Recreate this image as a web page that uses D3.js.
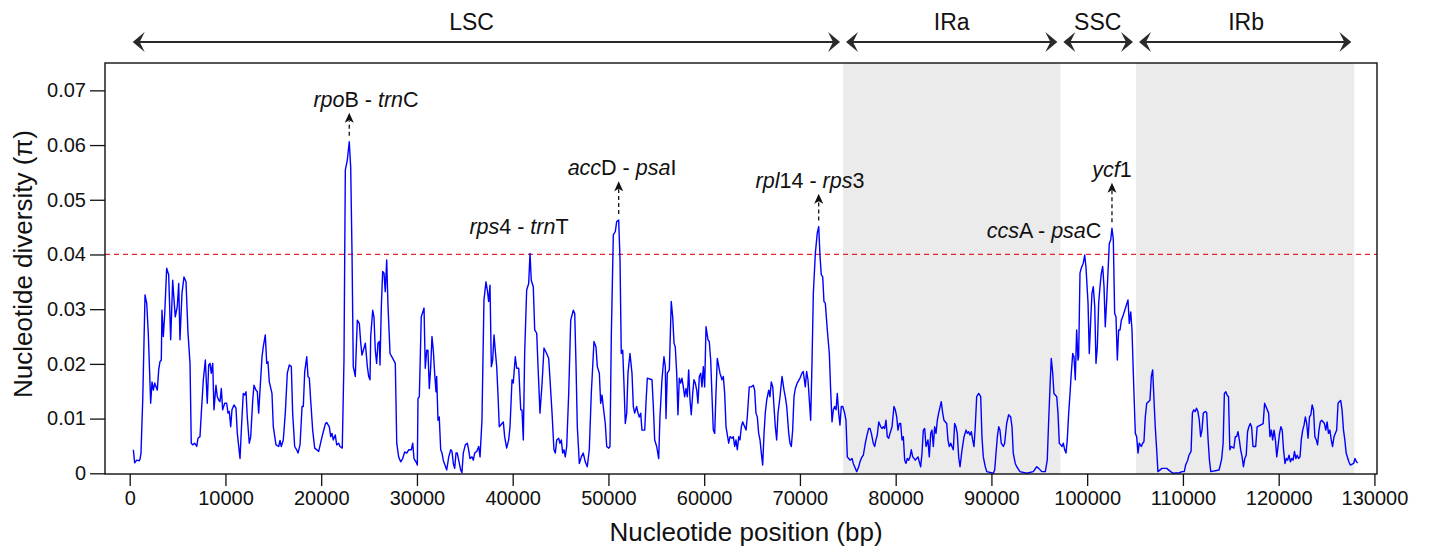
<!DOCTYPE html>
<html>
<head>
<meta charset="utf-8">
<script src="https://cdn.jsdelivr.net/npm/d3@7"></script>
<style>
body { margin: 0; background: #fff; }
text { font-family: "Liberation Sans", Arial, Helvetica, sans-serif; fill: #111; }
</style>
</head>
<body>
<div id="chart"></div>
<script>
// genome regions (bp)
const regionNames = ['LSC', 'IRa', 'SSC', 'IRb']
const regionStart = [0, 74500, 97200, 105100]
const regionEnd = [74500, 97200, 105100, 127900]
const regionLabelX = [35700, 85850, 101100, 116600]
const shadedRegions = ['IRa', 'IRb']

const xTicks = d3.range(0, 130001, 10000)
const yTicks = [0, 0.01, 0.02, 0.03, 0.04, 0.05, 0.06, 0.07]
const threshold = 0.04

// sliding window: [midpoint bp, Pi]
const piData = [
[380,0.0043],[520,0.0019],[730,0.0024],[1000,0.0023],[1080,0.0026],[1180,0.0037],[1360,0.0134],[1600,0.0326],[1780,0.031],[1940,0.0256],[2190,0.0128],[2330,0.0167],[2470,0.0152],[2610,0.0165],[2750,0.0158],[2880,0.0152],[3030,0.0189],[3160,0.0204],[3300,0.0207],[3370,0.0298],[3510,0.025],[3660,0.0292],[3860,0.0375],[4070,0.0363],[4280,0.0244],[4490,0.0353],[4630,0.0317],[4760,0.0286],[4970,0.0305],[5120,0.0347],[5250,0.0244],[5460,0.0329],[5670,0.0359],[5880,0.035],[6090,0.0256],[6300,0.0201],[6430,0.0055],[6580,0.0052],[6790,0.0055],[7000,0.0049],[7130,0.0064],[7340,0.0067],[7480,0.011],[7690,0.0171],[7900,0.0207],[8100,0.0128],[8250,0.0198],[8390,0.0201],[8520,0.0183],[8670,0.0201],[8800,0.0116],[9010,0.0161],[9150,0.014],[9290,0.0134],[9430,0.0131],[9570,0.0155],[9710,0.0116],[9920,0.0128],[10130,0.0128],[10270,0.011],[10400,0.0113],[10550,0.0085],[10680,0.0116],[10890,0.0125],[11100,0.0119],[11240,0.0073],[11520,0.0027],[11660,0.0079],[11860,0.0146],[12010,0.0143],[12150,0.0149],[12280,0.0103],[12490,0.0055],[12640,0.0067],[12850,0.0134],[12980,0.0161],[13190,0.0152],[13330,0.0149],[13470,0.011],[13610,0.0152],[13820,0.0213],[13950,0.0231],[14160,0.0253],[14310,0.0201],[14440,0.0204],[14580,0.0167],[14860,0.0146],[15000,0.0085],[15280,0.0052],[15560,0.0049],[15700,0.006],[15830,0.0049],[16040,0.0061],[16250,0.011],[16460,0.0183],[16670,0.0198],[16880,0.0195],[17020,0.011],[17230,0.0049],[17440,0.0043],[17580,0.0037],[17790,0.0052],[18000,0.0122],[18130,0.0122],[18280,0.0186],[18490,0.0213],[18620,0.0177],[18760,0.0174],[18900,0.0134],[19110,0.0079],[19320,0.0046],[19740,0.004],[20010,0.0061],[20220,0.0076],[20430,0.009],[20570,0.0093],[20850,0.0085],[20990,0.0067],[21130,0.0073],[21260,0.0061],[21470,0.007],[21620,0.0052],[21830,0.0055],
[21960,0.0049],[22200,0.0046],[22380,0.0207],[22520,0.0554],[22730,0.0573],[22930,0.0606],[23080,0.056],[23220,0.0402],[23350,0.0195],[23560,0.0177],[23770,0.028],[23980,0.0274],[24130,0.0238],[24260,0.0216],[24470,0.0229],[24610,0.0238],[24820,0.0195],[24960,0.0177],[25100,0.0171],[25170,0.025],[25380,0.0298],[25510,0.0286],[25650,0.0225],[25790,0.0201],[25930,0.0238],[26070,0.0241],[26140,0.0198],[26280,0.0305],[26420,0.0369],[26560,0.0366],[26690,0.0332],[26840,0.039],[26980,0.0305],[27190,0.0219],[27470,0.021],[27740,0.0201],[27890,0.0055],[28090,0.003],[28300,0.0021],[28510,0.0027],[28720,0.0039],[28930,0.0037],[29140,0.0043],[29410,0.0043],[29560,0.0055],[29690,0.0027],[29900,0.0021],[30040,0.0015],[30110,0.0137],[30250,0.014],[30450,0.0286],[30740,0.0302],[30870,0.0192],[31020,0.0225],[31150,0.0225],[31290,0.0155],[31440,0.0195],[31570,0.025],[31710,0.0225],[31850,0.0183],[31990,0.0149],[32060,0.0177],[32200,0.0097],[32330,0.0103],[32480,0.0043],[32620,0.0037],[32750,0.0024],[33110,0.0006],[33320,0.003],[33530,0.0043],[33660,0.004],[33800,0.0018],[33940,0.0009],[34080,0.0037],[34210,0.0037],[34360,0.0024],[34570,0.0006],[34700,0.0001],[34840,0.0037],[35050,0.0052],[35260,0.0055],[35400,0.0043],[35540,0.0027],[35750,0.003],[35890,0.0024],[36030,0.0037],[36240,0.004],[36450,0.0049],[36590,0.003],[36790,0.0097],[37000,0.0317],[37210,0.035],[37350,0.0335],[37490,0.0314],[37630,0.0344],[37770,0.0195],[37910,0.0207],[38050,0.0253],[38180,0.0225],[38330,0.0195],[38460,0.0146],[38600,0.0085],[38880,0.0091],[39020,0.0094],[39160,0.0067],[39370,0.0046],[39580,0.0061],[39720,0.0085],[39930,0.0171],[40060,0.0165],[40270,0.0213],[40420,0.0192],[40630,0.0192],[40840,0.0116],[40970,0.0116],[41110,0.0061],[41250,0.0219],[41460,0.0335],[41670,0.0347],[41810,0.0402],[41940,0.0353],[42150,0.0341],[42300,0.0262],[42510,0.0256],[42640,0.0198],[42850,0.011],[43070,0.0165],
[43270,0.0229],[43550,0.0219],[43760,0.021],[43900,0.0171],[44110,0.011],[44310,0.0043],[44450,0.0037],[44600,0.0061],[44800,0.0064],[44940,0.0055],[45080,0.0061],[45220,0.0037],[45360,0.0043],[45490,0.003],[45640,0.0049],[45850,0.0146],[46060,0.028],[46330,0.0298],[46480,0.0292],[46610,0.0201],[46750,0.0085],[46960,0.0018],[47170,0.003],[47370,0.0037],[47580,0.0021],[47790,0.0012],[48000,0.0043],[48210,0.0146],[48490,0.0241],[48700,0.0231],[48840,0.0195],[49050,0.0183],[49190,0.0128],[49330,0.0143],[49460,0.0122],[49670,0.0091],[49820,0.0049],[50030,0.0046],[50160,0.0049],[50300,0.025],[50510,0.0436],[50720,0.0442],[50860,0.046],[51070,0.0463],[51210,0.039],[51340,0.0219],[51490,0.0225],[51620,0.0165],[51760,0.0091],[51910,0.011],[52040,0.0183],[52250,0.0219],[52460,0.0183],[52600,0.0122],[52740,0.011],[52950,0.0122],[53090,0.011],[53220,0.0103],[53370,0.011],[53500,0.0079],[53790,0.0079],[53920,0.0128],[54060,0.0174],[54550,0.0171],[54690,0.0122],[54830,0.0061],[55040,0.0049],[55250,0.0027],[55380,0.0103],[55590,0.0171],[55800,0.0213],[55940,0.0195],[56010,0.01],[56150,0.0183],[56360,0.0189],[56560,0.0314],[56710,0.0286],[56850,0.0238],[56980,0.0231],[57130,0.0183],[57260,0.0107],[57400,0.0174],[57550,0.0165],[57680,0.0174],[57820,0.0158],[57960,0.014],[58100,0.0155],[58240,0.014],[58380,0.0189],[58520,0.0134],[58650,0.0107],[58800,0.0146],[58930,0.0171],[59070,0.0165],[59220,0.0152],[59350,0.0128],[59490,0.0177],[59640,0.0183],[59770,0.0158],[59910,0.0195],[60050,0.0158],[60190,0.0268],[60400,0.0244],[60530,0.0241],[60680,0.0207],[60820,0.014],[60950,0.0079],[61100,0.0073],[61230,0.0146],[61370,0.021],[61650,0.0183],[61860,0.0171],[62000,0.0177],[62140,0.0146],[62280,0.0085],[62560,0.0055],[62700,0.0067],[62900,0.0064],[63040,0.0067],[63190,0.0049],[63320,0.0061],[63460,0.0043],[63610,0.0067],[63740,0.0061],[63880,0.0085],[64020,0.0094],[64230,0.0085],[64370,0.0079],[64500,0.0103],[64710,0.0158],[64920,0.0158],[65130,0.0161],[65270,0.0152],[65410,0.011],[65550,0.0103],[65690,0.0073],[65830,0.0061],
[65970,0.0037],[66110,0.0015],[66250,0.0073],[66380,0.011],[66530,0.0134],[66740,0.0152],[66870,0.014],[67010,0.0167],[67160,0.0158],[67290,0.0122],[67430,0.0085],[67570,0.0061],[67710,0.011],[67920,0.014],[68130,0.0177],[68340,0.0152],[68470,0.014],[68620,0.0122],[68830,0.0073],[68960,0.0055],[69100,0.0049],[69240,0.0079],[69380,0.014],[69520,0.0155],[69720,0.0165],[70010,0.0174],[70210,0.0183],[70350,0.0186],[70560,0.0158],[70700,0.0186],[70840,0.0171],[70980,0.0134],[71120,0.0097],[71260,0.0201],[71400,0.0329],[71610,0.0402],[71810,0.0439],[71960,0.0451],[72100,0.0396],[72230,0.0363],[72380,0.0359],[72510,0.0314],[72650,0.0311],[72860,0.0262],[73070,0.0219],[73210,0.0152],[73350,0.0094],[73490,0.0116],[73630,0.0122],[73770,0.0116],[73900,0.0146],[74050,0.011],[74180,0.0088],[74320,0.0122],[74470,0.0122],[74670,0.011],[74810,0.0097],[74950,0.003],[75090,0.0027],[75230,0.0024],[75440,0.0027],[75570,0.0018],[75720,0.0012],[75930,0.0003],[76140,0.0012],[76270,0.0021],[76480,0.003],[76620,0.0033],[76830,0.0055],[76970,0.0067],[77180,0.0082],[77320,0.0082],[77460,0.0073],[77660,0.0055],[77810,0.0049],[77940,0.0061],[78080,0.007],[78230,0.0094],[78440,0.0085],[78570,0.0082],[78710,0.0085],[78850,0.0082],[78990,0.0097],[79120,0.0067],[79270,0.0064],[79410,0.0073],[79620,0.0085],[79820,0.0122],[79960,0.0116],[80110,0.0103],[80240,0.0079],[80380,0.0091],[80520,0.0091],[80660,0.0061],[80800,0.0067],[80940,0.0024],[81080,0.0018],[81210,0.0027],[81360,0.0024],[81500,0.003],[81630,0.0043],[81780,0.003],[82050,0.0024],[82190,0.0027],[82330,0.003],[82470,0.0021],[82610,0.0012],[82750,0.0037],[82890,0.0079],[83030,0.0082],[83170,0.0049],[83370,0.0061],[83510,0.003],[83660,0.0073],[83790,0.0079],[83930,0.0049],[84070,0.0085],[84210,0.0073],[84350,0.0097],[84490,0.011],[84760,0.0131],[84910,0.011],[85040,0.0097],[85330,0.0091],[85460,0.0061],[85600,0.0049],[85750,0.0055],[85880,0.0049],[86020,0.0043],[86160,0.0091],[86300,0.0085],[86430,0.0073],[86580,0.003],[86720,0.0012],
[86930,0.0043],[87140,0.0067],[87350,0.0079],[87480,0.0073],[87620,0.0076],[87760,0.007],[87900,0.0076],[88040,0.0061],[88180,0.0049],[88310,0.0085],[88460,0.014],[88670,0.0146],[88880,0.014],[89010,0.0067],[89150,0.003],[89360,0.0012],[89510,0.0003],[90200,0.0],[90340,0.0006],[90480,0.0037],[90620,0.0067],[90760,0.0085],[90890,0.0079],[91030,0.0055],[91240,0.0049],[91380,0.0055],[91590,0.0091],[91800,0.0107],[92010,0.0103],[92150,0.0085],[92280,0.0037],[92490,0.0018],[92640,0.0012],[92980,0.0003],[93680,0.0],[94370,0.0003],[94730,0.0012],[94940,0.0009],[95280,0.0003],[95630,0.0003],[95830,0.0024],[95980,0.0097],[96120,0.0158],[96250,0.021],[96400,0.0183],[96530,0.0146],[96820,0.014],[96950,0.011],[97090,0.0055],[97240,0.0052],[97370,0.0049],[97510,0.0055],[97650,0.0043],[97790,0.0037],[97920,0.0061],[98070,0.011],[98210,0.0146],[98340,0.0183],[98490,0.0219],[98620,0.0213],[98760,0.0171],[98900,0.0262],[99040,0.0207],[99110,0.0213],[99250,0.0366],[99380,0.0375],[99590,0.0384],[99740,0.0399],[99870,0.0378],[100090,0.0311],[100220,0.0219],[100370,0.028],[100500,0.0329],[100640,0.0341],[100790,0.0305],[100920,0.0201],[101060,0.0231],[101200,0.0311],[101340,0.0341],[101480,0.0366],[101620,0.0378],[101760,0.0341],[101890,0.0268],[102040,0.0317],[102170,0.0366],[102310,0.042],[102460,0.0427],[102590,0.0448],[102730,0.0427],[102870,0.0292],[103010,0.0286],[103150,0.0207],[103290,0.0262],[103430,0.0262],[103570,0.028],[103710,0.0286],[104050,0.0305],[104260,0.0317],[104400,0.0274],[104550,0.0295],[104680,0.0262],[104820,0.0183],[105030,0.0073],[105170,0.0067],[105310,0.0037],[105440,0.0055],[105650,0.0049],[105800,0.0055],[105930,0.0058],[106070,0.0103],[106220,0.0128],[106430,0.0131],[106560,0.0134],[106700,0.0177],[106840,0.0189],[106980,0.0134],[107110,0.0085],[107260,0.0043],[107390,0.0003],[107810,0.0009],[108300,0.0009],[108720,0.0003],
[109000,0.0],[109640,0.0001],[109920,0.0003],[110140,0.0003],[110280,0.0015],[110500,0.0024],[110630,0.0033],[110850,0.004],[110990,0.011],[111130,0.0116],[111280,0.0113],[111420,0.0119],[111560,0.0113],[111710,0.0097],[111850,0.0067],[111990,0.0079],[112130,0.011],[112350,0.0113],[112480,0.0111],[112630,0.0061],[112770,0.0024],[112910,0.0003],[113770,0.0006],[113900,0.0015],[114050,0.0027],[114200,0.0055],[114330,0.0146],[114480,0.0149],[114610,0.0143],[114760,0.014],[114900,0.0043],[115040,0.0049],[115320,0.0046],[115470,0.0067],[115610,0.0067],[115750,0.0076],[115890,0.0061],[116030,0.0043],[116180,0.003],[116320,0.0012],[116460,0.0027],[116610,0.0033],[116750,0.0076],[116890,0.0085],[117030,0.0091],[117170,0.0085],[117320,0.0049],[117600,0.0049],[117750,0.0085],[118380,0.0091],[118530,0.0128],[118670,0.0122],[118950,0.011],[119090,0.0067],[119240,0.0079],[119370,0.0061],[119520,0.0079],[119660,0.0061],[119800,0.003],[119950,0.0052],[120090,0.0073],[120230,0.0085],[120370,0.0079],[120510,0.0043],[120660,0.0018],[120800,0.0027],[120940,0.0024],[121080,0.0033],[121230,0.0021],[121370,0.0027],[121510,0.0024],[121650,0.004],[121800,0.0027],[121930,0.0033],[122080,0.0027],[122230,0.003],[122360,0.0061],[122510,0.0079],[122650,0.0088],[122790,0.0103],[122930,0.0091],[123070,0.0064],[123220,0.0103],[123360,0.0107],[123500,0.0125],[123640,0.0116],[123780,0.0067],[123930,0.0061],[124060,0.0052],[124210,0.0079],[124350,0.0094],[124490,0.0097],[124780,0.0091],[124920,0.0079],[125060,0.0094],[125200,0.0073],[125350,0.0079],[125490,0.0061],[125630,0.0049],[125780,0.0067],[126060,0.0079],[126200,0.0128],[126340,0.0131],[126480,0.0133],[126620,0.0116],[126770,0.0079],[126910,0.0061],[127050,0.0037],[127330,0.0021],[127480,0.0015],[127830,0.0018],[127970,0.0027],[128120,0.0021],[128260,0.0019]
]

// hotspot labels: text pieces [string, italic]
const hotspotNames = [
  [['rpo',1],['B',0],[' - ',0],['trn',1],['C',0]],
  [['rps',1],['4',0],[' - ',0],['trn',1],['T',0]],
  [['acc',1],['D',0],[' - ',0],['psa',1],['I',0]],
  [['rpl',1],['14',0],[' - ',0],['rps',1],['3',0]],
  [['ccs',1],['A',0],[' - ',0],['psa',1],['C',0]],
  [['ycf',1],['1',0]]
]
const hotspotLabelX = [24680, 40660, 51420, 71050, 95490, 102590]
const hotspotLabelY = [0.067, 0.0438, 0.0545, 0.0522, 0.0431, 0.0542]
const hotspotPeakX = [22930, 41810, 51070, 71960, 99740, 102590]
const hotspotPeakY = [0.0606, 0.0402, 0.0463, 0.0451, 0.0399, 0.0448]
const hotspotArrow = [true, false, true, true, false, true]

const width = 1435
const height = 550
const plotLeft = 105, plotRight = 1377, plotTop = 63, plotBottom = 474

const svg = d3.select('#chart')
  .append('svg')
  .attr('width', width)
  .attr('height', height)

const x = d3.scaleLinear()
  .domain([-2580, 130270])
  .range([plotLeft, plotRight])

const y = d3.scaleLinear()
  .domain([0, 0.075])
  .range([473.3, plotTop])

// shaded inverted repeats
svg.append('g')
  .selectAll('rect')
  .data(regionNames.map((n, i) => ({n, s: regionStart[i], e: regionEnd[i]})).filter(d => shadedRegions.includes(d.n)))
  .join('rect')
  .attr('x', d => x(d.s))
  .attr('width', d => x(d.e) - x(d.s))
  .attr('y', plotTop)
  .attr('height', plotBottom - plotTop)
  .attr('fill', '#ebebeb')

// threshold
svg.append('line')
  .attr('x1', plotLeft).attr('x2', plotRight)
  .attr('y1', y(threshold)).attr('y2', y(threshold))
  .attr('stroke', '#e3262a')
  .attr('stroke-width', 1.2)
  .attr('stroke-dasharray', '5,4')

const line = d3.line()
  .x(d => x(d[0]))
  .y(d => y(d[1]))

svg.append('path')
  .datum(piData)
  .attr('d', line)
  .attr('fill', 'none')
  .attr('stroke', '#0000ff')
  .attr('stroke-width', 1.4)
  .attr('stroke-linejoin', 'round')

// frame
svg.append('rect')
  .attr('x', plotLeft).attr('y', plotTop)
  .attr('width', plotRight - plotLeft)
  .attr('height', plotBottom - plotTop)
  .attr('fill', 'none')
  .attr('stroke', '#111')
  .attr('stroke-width', 1.4)

// axes
const yAxis = svg.append('g')
  .attr('transform', `translate(${plotLeft},0)`)
  .call(d3.axisLeft(y).tickValues(yTicks).tickSize(15).tickPadding(4)
    .tickFormat(d => d === 0 ? '0' : d3.format('.2f')(d)))
yAxis.select('.domain').remove()

const xAxis = svg.append('g')
  .attr('transform', `translate(0,${plotBottom})`)
  .call(d3.axisBottom(x).tickValues(xTicks).tickSize(12).tickPadding(5).tickFormat(d3.format('d')))
xAxis.select('.domain').remove()

svg.selectAll('.tick line').attr('stroke', '#111').attr('stroke-width', 1.3)
svg.selectAll('.tick text').attr('font-size', 20).attr('fill', '#111')
  .style('font-family', '"Liberation Sans", Arial, sans-serif')

svg.append('text')
  .attr('x', 746).attr('y', 541)
  .attr('text-anchor', 'middle')
  .attr('font-size', 26)
  .text('Nucleotide position (bp)')

svg.append('text')
  .attr('transform', 'translate(32,264) rotate(-90)')
  .attr('text-anchor', 'middle')
  .attr('font-size', 26)
  .text('Nucleotide diversity (π)')

// region arrows on top
const arrowY = 42
const topG = svg.append('g')
const head = (tip, dir) => `M${tip},${arrowY} L${tip + dir * 12},${arrowY - 10} L${tip + dir * 7},${arrowY} L${tip + dir * 12},${arrowY + 10} Z`
regionNames.forEach((name, i) => {
  const x1 = x(regionStart[i]) + 3
  const x2 = x(regionEnd[i]) - 3
  topG.append('line')
    .attr('x1', x1 + 4).attr('x2', x2 - 4)
    .attr('y1', arrowY).attr('y2', arrowY)
    .attr('stroke', '#2a2a2a').attr('stroke-width', 2.2)
  topG.append('path').attr('d', head(x1, 1)).attr('fill', '#2a2a2a')
  topG.append('path').attr('d', head(x2, -1)).attr('fill', '#2a2a2a')
  topG.append('text')
    .attr('x', x(regionLabelX[i])).attr('y', 30)
    .attr('text-anchor', 'middle')
    .attr('font-size', 23)
    .text(name)
})

// hotspot labels and arrows
const annG = svg.append('g')
hotspotNames.forEach((parts, i) => {
  const t = annG.append('text')
    .attr('x', x(hotspotLabelX[i])).attr('y', y(hotspotLabelY[i]))
    .attr('text-anchor', 'middle')
    .attr('font-size', 21.5)
  parts.forEach(p => {
    t.append('tspan').text(p[0]).attr('font-style', p[1] ? 'italic' : 'normal')
  })
  if (hotspotArrow[i]) {
    const ax = x(hotspotPeakX[i])
    const yTip = y(hotspotLabelY[i]) + 6
    const yBase = y(hotspotPeakY[i]) - 6
    annG.append('line')
      .attr('x1', ax).attr('x2', ax)
      .attr('y1', yBase).attr('y2', yTip + 8)
      .attr('stroke', '#111').attr('stroke-width', 1.3)
      .attr('stroke-dasharray', '4,3')
    annG.append('path')
      .attr('d', `M${ax},${yTip} L${ax - 4.5},${yTip + 10} L${ax},${yTip + 7.5} L${ax + 4.5},${yTip + 10} Z`)
      .attr('fill', '#111')
  }
})
</script>
</body>
</html>
